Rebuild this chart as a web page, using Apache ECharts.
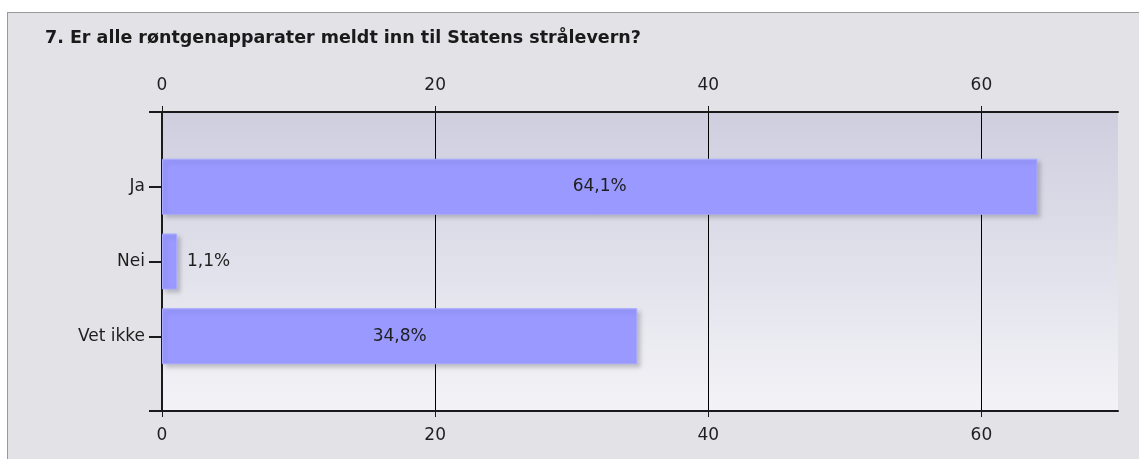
<!DOCTYPE html>
<html>
<head>
<meta charset="utf-8">
<script src="https://cdn.jsdelivr.net/npm/echarts@6/dist/echarts.min.js"></script>
<style>
  html, body { margin: 0; padding: 0; background: #ffffff; overflow: hidden; }
  #chart {
    position: absolute; left: 7px; top: 12px;
    width: 1131px; height: 446px;
    border-left: 1px solid #9a9a9a; border-top: 1px solid #9a9a9a;
    background: #e3e2e7;
  }
</style>
</head>
<body>
<div id="chart"></div>
<script>
// spørsmål 7 - fordeling av svar
var title = "7. Er alle røntgenapparater meldt inn til Statens strålevern?";
var categories = ["Ja", "Nei", "Vet ikke"];
var values = [64.1, 1.1, 34.8];
var tickValues = [0, 20, 40, 60];

// tom kategori i hver ende så akselinjene får tick i kantene
var axisCats = [""].concat(categories).concat([""]);
var barData = ["-"].concat(values.map(function (v) {
  return {
    value: v,
    label: { position: v < 5 ? "right" : "inside", distance: 10 }
  };
})).concat(["-"]);

var fmt = function (v) { return String(v).replace(".", ","); };

var axisFont = { color: "#1e1e1e", fontSize: 17, fontFamily: "DejaVu Sans" };

function valueAxis(pos, grid, margin) {
  return {
    type: "value",
    position: pos,
    min: 0,
    max: 70,
    interval: 20,
    axisLine: { show: true, lineStyle: { color: "#1a1a1a", width: 2 } },
    axisTick: { show: true, length: 6, customValues: tickValues, lineStyle: { color: "#1a1a1a" } },
    axisLabel: Object.assign({ margin: margin, customValues: tickValues, formatter: fmt }, axisFont),
    splitLine: { show: grid, customValues: tickValues, lineStyle: { color: "#000", width: 1 } }
  };
}

var chart = echarts.init(document.getElementById("chart"));
chart.setOption({
  animation: false,
  title: {
    text: title,
    left: 32,
    top: 11,
    textStyle: { color: "#1a1a1a", fontSize: 17.5, fontWeight: "bold", fontFamily: "DejaVu Sans" }
  },
  grid: {
    left: 154,
    top: 99,
    width: 956,
    height: 299,
    show: true,
    borderWidth: 0,
    backgroundColor: {
      type: "linear", x: 0, y: 0, x2: 0, y2: 1,
      colorStops: [
        { offset: 0, color: "#cecedf" },
        { offset: 1, color: "#f3f3f7" }
      ]
    }
  },
  xAxis: [valueAxis("top", true, 18), valueAxis("bottom", false, 16)],
  yAxis: {
    type: "category",
    data: axisCats,
    inverse: true,
    boundaryGap: false,
    axisLine: { show: true, lineStyle: { color: "#1a1a1a", width: 2 } },
    axisTick: { show: true, length: 13, lineStyle: { color: "#1a1a1a", width: 2 } },
    axisLabel: Object.assign({ margin: 17, interval: 0 }, axisFont),
    splitLine: { show: false }
  },
  series: [
    {
      type: "bar",
      xAxisIndex: 0,
      barWidth: 56,
      data: barData,
      itemStyle: {
        color: "#9999ff",
        borderColor: "#a9a9ff",
        borderWidth: 1,
        shadowColor: "rgba(0,0,0,0.18)",
        shadowBlur: 4,
        shadowOffsetX: 3,
        shadowOffsetY: 3
      },
      label: {
        show: true,
        color: "#1e1e1e",
        fontSize: 17,
        fontFamily: "DejaVu Sans",
        formatter: function (p) { return fmt(p.value) + "%"; }
      }
    }
  ]
});
</script>
</body>
</html>
